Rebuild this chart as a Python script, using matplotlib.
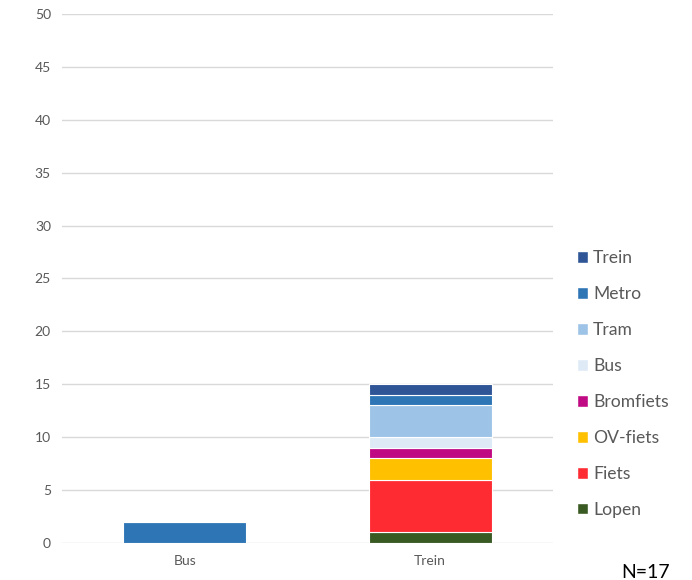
import matplotlib
matplotlib.use("Agg")
import matplotlib.pyplot as plt
from matplotlib.patches import Patch

plt.rcParams['font.family'] = ['Lato', 'DejaVu Sans']

categories = ["Bus", "Trein"]
modes = ["Lopen", "Fiets", "OV-fiets", "Bromfiets", "Bus", "Tram", "Metro", "Trein"]
values = {
    "Lopen":     [0, 1],
    "Fiets":     [0, 5],
    "OV-fiets":  [0, 2],
    "Bromfiets": [0, 1],
    "Bus":       [0, 1],
    "Tram":      [0, 3],
    "Metro":     [2, 1],
    "Trein":     [0, 1],
}
colors = {
    "Lopen":     "#3A5A24",
    "Fiets":     "#FF2B33",
    "OV-fiets":  "#FFC000",
    "Bromfiets": "#C00A84",
    "Bus":       "#DEEBF7",
    "Tram":      "#9DC3E6",
    "Metro":     "#2E75B6",
    "Trein":     "#2F5597",
}
yticks = list(range(0, 55, 5))
n_label = "N=17"

fig = plt.figure(figsize=(6.92, 5.8), dpi=100)
ax = fig.add_axes([0.0896, 0.0638, 0.7094, 0.9121])

x = list(range(len(categories)))
bottom = [0] * len(categories)
for m in modes:
    v = values[m]
    ax.bar(x, v, width=0.5, bottom=bottom, color=colors[m],
           edgecolor="white", linewidth=0.8, zorder=3)
    bottom = [b + vi for b, vi in zip(bottom, v)]

ax.set_xlim(-0.5, 1.5)
ax.set_ylim(0, 50)
ax.set_yticks(yticks)
ax.set_xticks(x)
ax.set_xticklabels(categories)
ax.grid(axis="y", color="#D9D9D9", linewidth=1, zorder=0)
for s in ax.spines.values():
    s.set_visible(False)
ax.tick_params(axis="both", length=0, labelsize=10, colors="#595959", pad=8)
ax.tick_params(axis="x", pad=9)

handles = [Patch(facecolor=colors[m], edgecolor="white", label=m) for m in reversed(modes)]
fig.legend(handles=handles, loc="center left", bbox_to_anchor=(0.823, 0.338),
           frameon=False, fontsize=12.6, labelcolor="#595959",
           handlelength=0.65, handleheight=0.65, handletextpad=0.3,
           labelspacing=1.14, borderaxespad=0)

fig.text(0.898, 0.004, n_label, fontsize=14, color="black", ha="left", va="baseline")

fig.savefig("out.png", dpi=100)
